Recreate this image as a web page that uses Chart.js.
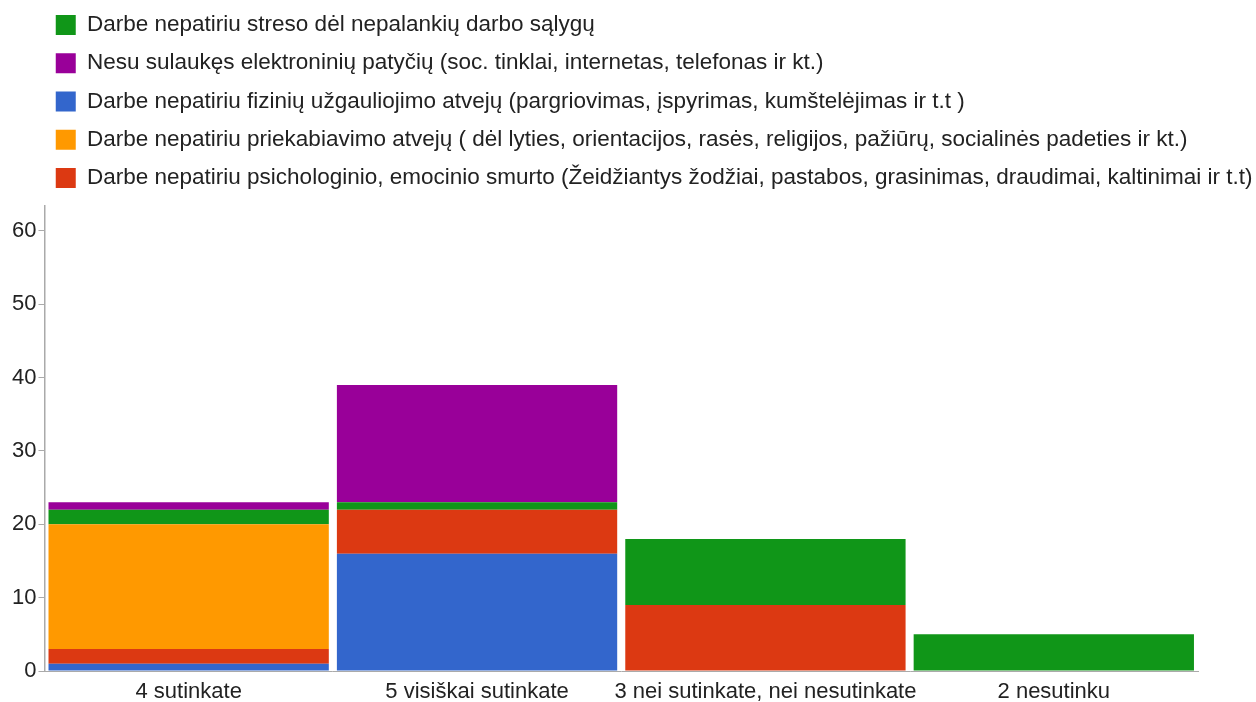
<!DOCTYPE html>
<html>
<head>
<meta charset="utf-8">
<script src="https://cdn.jsdelivr.net/npm/chart.js@4"></script>
<style>
  html, body { margin: 0; padding: 0; background: #fff; }
  #wrap { width: 1256px; height: 702px; }
</style>
</head>
<body>
<div id="wrap"><canvas id="myChart"></canvas></div>
<script>
const categories = ["4 sutinkate", "5 visiškai sutinkate", "3 nei sutinkate, nei nesutinkate", "2 nesutinku"]

// stacked bottom -> top
const fiziniu = [1, 16, 0, 0]
const psichologinio = [2, 6, 9, 0]
const priekabiavimo = [17, 0, 0, 0]
const streso = [2, 1, 9, 5]
const elektroniniu = [1, 16, 0, 0]

const yTicks = [0, 10, 20, 30, 40, 50, 60]

// order the legend shows them in (dataset indexes)
const legendOrder = [3, 4, 0, 2, 1]

const FONT = "'Liberation Sans', Arial, sans-serif"

function main() {
    const ctx = document.getElementById("myChart")

    // nudge legend to where the original has it, and let long labels run to the edge
    const shiftLegend = {
        id: "shiftLegend",
        afterLayout(chart) {
            const lg = chart.legend
            lg.left += 30
            lg.right = chart.width + 40
            lg.width = lg.right - lg.left
            lg.top -= 6
            lg.bottom -= 6
        }
    }

    new Chart(ctx, {
        type: "bar",
        data: {
            labels: categories,
            datasets: [
                { label: "Darbe nepatiriu fizinių užgauliojimo atvejų (pargriovimas, įspyrimas, kumštelėjimas ir t.t )", data: fiziniu, backgroundColor: "#3366cc" },
                { label: "Darbe nepatiriu psichologinio, emocinio smurto (Žeidžiantys žodžiai, pastabos, grasinimas, draudimai, kaltinimai ir t.t)", data: psichologinio, backgroundColor: "#dc3912" },
                { label: "Darbe nepatiriu priekabiavimo atvejų ( dėl lyties, orientacijos, rasės, religijos, pažiūrų, socialinės padeties ir kt.)", data: priekabiavimo, backgroundColor: "#ff9900" },
                { label: "Darbe nepatiriu streso dėl nepalankių darbo sąlygų", data: streso, backgroundColor: "#109618" },
                { label: "Nesu sulaukęs elektroninių patyčių (soc. tinklai, internetas, telefonas ir kt.)", data: elektroniniu, backgroundColor: "#990099" },
            ],
        },
        options: {
            responsive: true,
            maintainAspectRatio: false,
            animation: false,
            layout: { padding: { left: 10, right: 58, top: 4, bottom: 0 } },
            datasets: {
                bar: { barPercentage: 0.972, categoryPercentage: 1, borderWidth: 0 }
            },
            plugins: {
                tooltip: { enabled: false },
                legend: {
                    position: "top",
                    align: "start",
                    labels: {
                        boxWidth: 20,
                        boxHeight: 20,
                        padding: 15.75,
                        color: "#222",
                        font: { family: FONT, size: 22.5 },
                        sort: (a, b) => legendOrder.indexOf(a.datasetIndex) - legendOrder.indexOf(b.datasetIndex),
                    },
                },
            },
            scales: {
                x: {
                    stacked: true,
                    grid: { display: false },
                    border: { color: "#aaa", width: 1 },
                    afterFit: scale => { scale.height = 31 },
                    ticks: {
                        color: "#222",
                        padding: 2,
                        maxRotation: 0,
                        autoSkip: false,
                        font: { family: FONT, size: 22, lineHeight: 1 },
                    },
                },
                y: {
                    stacked: true,
                    min: 0,
                    max: 63.5,
                    afterBuildTicks: axis => {
                        axis.ticks = yTicks.map(v => ({ value: v }))
                    },
                    grid: { drawOnChartArea: false, tickLength: 6, color: "#aaa" },
                    border: { color: "#aaa", width: 1.5 },
                    ticks: {
                        color: "#222",
                        padding: 2,
                        font: { family: FONT, size: 22 },
                    },
                },
            },
        },
        plugins: [shiftLegend],
    })
}

document.addEventListener("DOMContentLoaded", main)
</script>
</body>
</html>
